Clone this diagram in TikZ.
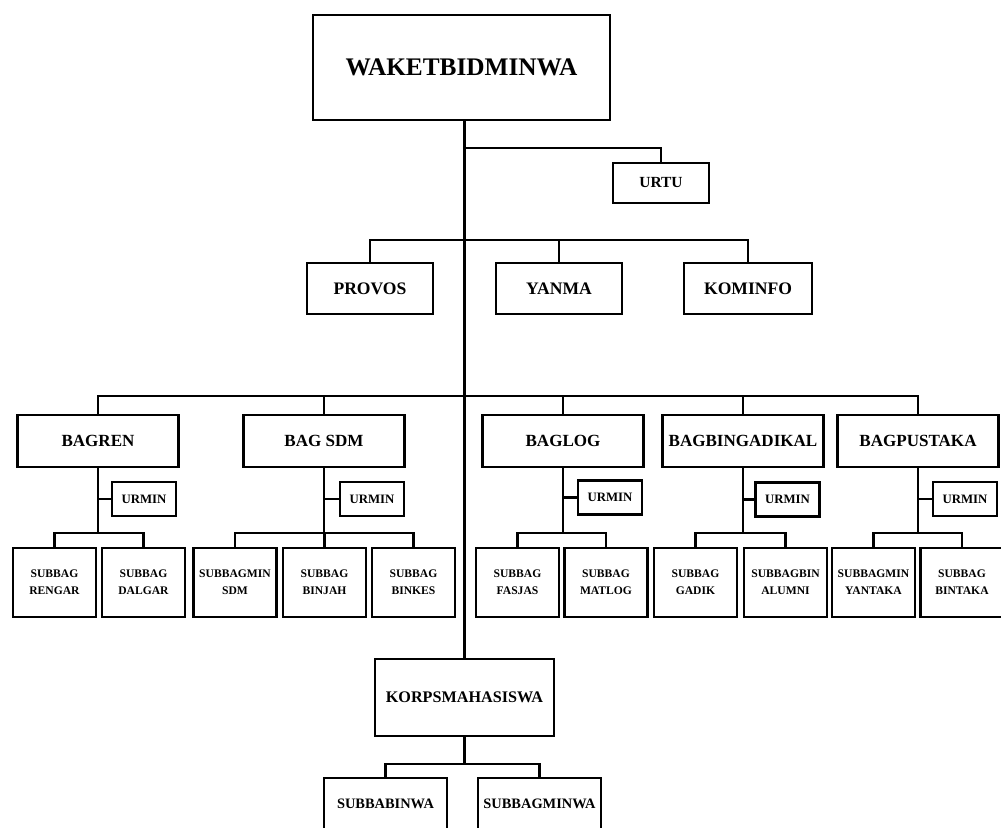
\documentclass[tikz,border=0pt]{standalone}
\usepackage{fontspec}
\setmainfont{Liberation Serif}
\usetikzlibrary{shadows}

\begin{document}
\begin{tikzpicture}[x=0.02cm, y=-0.02cm, line width=1.6pt,
	box/.style={draw, fill=white, font=\bfseries, align=center, inner sep=1pt, drop shadow={shadow xshift=0.6pt, shadow yshift=-0.6pt, opacity=0.25}},
	top/.style={box, minimum width=5.94cm, minimum height=2.1cm, font=\bfseries\fontsize{14.4}{16}\selectfont},
	unit/.style={box, minimum width=2.52cm, minimum height=1.02cm, font=\bfseries\fontsize{10}{12}\selectfont},
	bag/.style={box, minimum width=3.22cm, minimum height=1.04cm, font=\bfseries\fontsize{9.7}{12}\selectfont},
	urmin/.style={box, minimum width=1.28cm, minimum height=0.68cm, font=\bfseries\fontsize{7.3}{9}\selectfont},
	sub/.style={box, minimum width=1.66cm, minimum height=1.38cm, font=\bfseries\fontsize{6.6}{9.6}\selectfont},
	korps/.style={box, minimum width=3.58cm, minimum height=1.54cm, font=\bfseries\fontsize{9.2}{11}\selectfont},
	minwa/.style={box, minimum width=2.46cm, minimum height=1.04cm, font=\bfseries\fontsize{8.2}{10}\selectfont}]

	\useasboundingbox (0,0) rectangle (1001,828);

	\coordinate (busa) at (0,148);
	\coordinate (busb) at (0,240);
	\coordinate (busc) at (0,396);
	\coordinate (busd) at (0,533);
	\coordinate (buse) at (0,764);

	\node[top] (waket) at (461.5,67.5) {WAKETBIDMINWA};
	\node[box, minimum width=1.92cm, minimum height=0.8cm, font=\bfseries\fontsize{8.8}{10}\selectfont] (urtu) at (661,183) {URTU};

	\node[unit] (provos) at (370,288.5) {PROVOS};
	\node[unit] (yanma) at (559,288.5) {YANMA};
	\node[unit, minimum width=2.56cm] (kominfo) at (748,288.5) {KOMINFO};

	\node[bag] (bagren) at (98,441) {BAGREN};
	\node[bag] (bagsdm) at (324,441) {BAG SDM};
	\node[bag] (baglog) at (563,441) {BAGLOG};
	\node[bag] (bagbin) at (743,441) {BAGBINGADIKAL};
	\node[bag] (bagpus) at (918,441) {BAGPUSTAKA};

	\node[urmin] (urmina) at (144,499) {URMIN};
	\node[urmin] (urminb) at (372,499) {URMIN};
	\node[urmin] (urminc) at (610,497.5) {URMIN};
	\node[urmin] (urmind) at (787.5,499.5) {URMIN};
	\node[urmin] (urmine) at (965,499) {URMIN};

	\node[sub] (rengar) at (54.5,582.5) {SUBBAG\\RENGAR};
	\node[sub] (dalgar) at (143.5,582.5) {SUBBAG\\DALGAR};
	\node[sub] (minsdm) at (235,582.5) {SUBBAGMIN\\SDM};
	\node[sub] (binjah) at (324.5,582.5) {SUBBAG\\BINJAH};
	\node[sub] (binkes) at (413.5,582.5) {SUBBAG\\BINKES};
	\node[sub] (fasjas) at (517.5,582.5) {SUBBAG\\FASJAS};
	\node[sub] (matlog) at (606,582.5) {SUBBAG\\MATLOG};
	\node[sub] (gadik) at (695.5,582.5) {SUBBAG\\GADIK};
	\node[sub] (alumni) at (785.5,582.5) {SUBBAGBIN\\ALUMNI};
	\node[sub] (yantaka) at (873.5,582.5) {SUBBAGMIN\\YANTAKA};
	\node[sub] (bintaka) at (962,582.5) {SUBBAG\\BINTAKA};

	\node[korps] (korps) at (464.5,697.5) {KORPSMAHASISWA};
	\node[minwa] (binwa) at (385.5,804) {SUBBABINWA};
	\node[minwa] (minwa) at (539.5,804) {SUBBAGMINWA};

	% trunk and top branches
	\draw (korps.north) -- (korps.north |- waket.south);
	\draw (korps.north |- busa) -| (urtu.north);
	\draw (provos.north) |- (busb -| kominfo.north) -- (kominfo.north);
	\draw (yanma.north) -- (yanma.north |- busb);

	\draw (bagren.north) |- (busc -| bagpus.north) -- (bagpus.north);
	\draw (bagsdm.north) -- (bagsdm.north |- busc);
	\draw (baglog.north) -- (baglog.north |- busc);
	\draw (bagbin.north) -- (bagbin.north |- busc);

	% bagian
	\draw (bagren.south) -- (bagren.south |- busd);
	\draw (urmina.west) -- (urmina.west -| bagren.south);
	\draw (rengar.north) |- (busd -| dalgar.north) -- (dalgar.north);

	\draw (bagsdm.south) -- (bagsdm.south |- busd);
	\draw (urminb.west) -- (urminb.west -| bagsdm.south);
	\draw (minsdm.north) |- (busd -| binkes.north) -- (binkes.north);
	\draw (binjah.north) -- (binjah.north |- busd);

	\draw (baglog.south) -- (baglog.south |- busd);
	\draw (urminc.west) -- (urminc.west -| baglog.south);
	\draw (fasjas.north) |- (busd -| matlog.north) -- (matlog.north);

	\draw (bagbin.south) -- (bagbin.south |- busd);
	\draw (urmind.west) -- (urmind.west -| bagbin.south);
	\draw (gadik.north) |- (busd -| alumni.north) -- (alumni.north);

	\draw (bagpus.south) -- (bagpus.south |- busd);
	\draw (urmine.west) -- (urmine.west -| bagpus.south);
	\draw (yantaka.north) |- (busd -| bintaka.north) -- (bintaka.north);

	% korps
	\draw (korps.south) -- (korps.south |- buse);
	\draw (binwa.north) |- (buse -| minwa.north) -- (minwa.north);
\end{tikzpicture}
\end{document}
